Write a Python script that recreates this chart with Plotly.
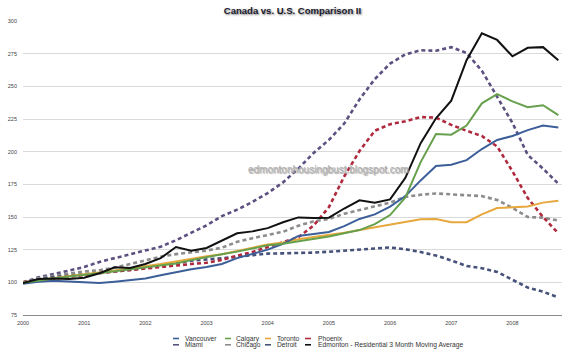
import plotly.graph_objects as go

# quarterly sample points, Jan 2000 .. Oct 2008
quarters = [2000 + 0.25 * k for k in range(36)]
year_ticks = [2000, 2001, 2002, 2003, 2004, 2005, 2006, 2007, 2008]
y_ticks = [75, 100, 125, 150, 175, 200, 225, 250, 275, 300]

vancouver = [99, 100.5, 101.2, 100.6, 99.8, 99.5, 100.5, 102, 103, 105.5, 108, 110,
             111.8, 114, 118.5, 121.5, 125, 129.5, 135.5, 137, 138.5, 143, 148.5, 152,
             158, 166, 178, 189, 190, 193.5, 202, 209, 212, 216.5, 220, 218.5]
calgary = [99.7, 101.5, 103, 104.5, 105.5, 107, 108.5, 110, 111, 112.5, 114.5, 117,
           119.5, 121.5, 123.5, 126, 128.3, 129.5, 131.3, 133, 135, 137.5, 140, 144.5,
           151.5, 165, 192, 213.5, 213, 220, 237, 244, 238.5, 234, 235.5, 228]
toronto = [100, 101.8, 103.2, 104.8, 106, 107.5, 109, 110.5, 112, 114, 116, 118.2,
           120, 121.5, 124, 126.5, 129, 130.5, 133, 134.7, 136.2, 138, 140, 142,
           143.7, 146, 148.2, 148.5, 146, 146, 152, 156.8, 157.5, 158, 161, 162.5]
edmonton = [99.5, 102.5, 103, 102.5, 103.5, 107, 111.5, 111, 114, 118.5, 127, 124.2,
            126.3, 132, 137.5, 139, 141.5, 146, 149.7, 149.2, 149.5, 156.5, 162.8, 161,
            163.5, 180, 206.5, 225.5, 239, 270, 290.6, 285.5, 273, 279.5, 280, 270]
miami = [100, 103.8, 106.3, 108.8, 111.7, 115.6, 118.6, 121.5, 124.4, 127.3, 132.2, 137.8,
         143.6, 150.7, 155.6, 161.5, 168.3, 176.5, 187, 199, 209, 221.5, 240, 255.5,
         267.4, 274.5, 277.6, 277.2, 280, 275.5, 262, 242, 222, 197.5, 187, 175.5]
chicago = [100, 103.3, 105, 106.8, 108.3, 109.3, 111.3, 114, 116.8, 119.6, 121.6, 123,
           124.3, 126.5, 131, 133.8, 136.2, 138.7, 143.3, 146.7, 148.5, 152.5, 155.3, 158,
           161, 165.4, 167, 168, 167.3, 166.5, 166, 163, 157, 150, 149.5, 147.3]
detroit = [100, 102, 104, 105, 106, 107, 108, 109.5, 111, 112.5, 114.5, 116.5,
           117.3, 118.5, 119.5, 120.8, 122, 122.2, 122.3, 122.8, 123.4, 124.3, 125.2, 126,
           126.7, 125.3, 123.2, 120.5, 116.8, 112.5, 110.8, 108, 102, 96, 92.8, 88.5]
phoenix = [100, 101.5, 103, 104.3, 105.5, 107, 108.3, 109.5, 110.8, 112, 113, 114,
           115, 117.2, 120.3, 123.2, 127, 131, 134.5, 143.5, 157.5, 181, 200.5, 216,
           221, 223.2, 226.5, 226, 220.5, 216, 212, 204, 185, 164.5, 150, 137.5]

series_names = ["Vancouver", "Miami", "Calgary", "Chicago", "Toronto", "Detroit",
                "Phoenix", "Edmonton - Residential 3 Month Moving Average"]
series_values = [vancouver, miami, calgary, chicago, toronto, detroit, phoenix, edmonton]
colors = ["#3c5f99", "#5d4f80", "#67a04c", "#8c8c8c", "#e6a83c", "#46527a", "#b02a3e", "#111111"]
dashed = [False, True, False, True, False, True, True, False]

fig = go.Figure()
draw_order = [1, 3, 5, 6, 4, 0, 2, 7]
for i in draw_order:
    fig.add_trace(go.Scatter(
        x=quarters, y=series_values[i], mode="lines", name=series_names[i],
        showlegend=False, hoverinfo="skip",
        line=dict(color=colors[i], width=2.6 if dashed[i] else 2.0,
                  dash="4px,3px" if dashed[i] else "solid"),
    ))

# legend built as text annotations + short line glyphs (4 columns x 2 rows)
L, R, T, B = 23, 8, 21, 38
W, H = 570, 353
pw, ph = W - L - R, H - T - B
def px_x(p):
    return (p - L) / pw
def px_y(p):
    return (H - B - p) / ph

col_dash = [(173, 179), (225, 231), (265, 271), (305, 311)]
col_text = [183, 234, 275, 316]
row_y = [338.5, 344.8]
for idx, name in enumerate(series_names):
    col, row = idx // 2, idx % 2
    fig.add_shape(type="line", xref="paper", yref="paper",
                  x0=px_x(col_dash[col][0]), x1=px_x(col_dash[col][1]),
                  y0=px_y(row_y[row]), y1=px_y(row_y[row]),
                  line=dict(color=colors[idx], width=1.6))
    fig.add_annotation(xref="paper", yref="paper", x=px_x(col_text[col]), y=px_y(row_y[row]),
                       text=name, showarrow=False, xanchor="left", yanchor="middle",
                       font=dict(family="Liberation Sans", size=6.7, color="#333333"))

fig.add_annotation(x=2004.99, y=186, xref="x", yref="y",
                   text="edmontonhousingbust.blogspot.com", showarrow=False,
                   font=dict(family="Liberation Sans", size=10, color="#adadad",
                             shadow="1px 1px 1px #9a9a9a"))

fig.update_layout(
    width=W, height=H,
    margin=dict(l=L, r=R, t=T, b=B, pad=0),
    paper_bgcolor="white", plot_bgcolor="white",
    title=dict(text="<b>Canada vs. U.S. Comparison II</b>", x=0.5, xref="paper",
               y=1 - 11 / H, yref="container", xanchor="center", yanchor="middle",
               font=dict(family="Liberation Sans", size=9.5, color="#1a1a2e",
                         shadow="1px 1px 2px #777")),
    xaxis=dict(range=[2000, 2008.81], tickvals=year_ticks,
               ticktext=[str(y) for y in year_ticks], showgrid=False, zeroline=False,
               showline=True, linecolor="#8a8a8a", linewidth=1, ticks="",
               tickfont=dict(family="Liberation Sans", size=5.5, color="#444444"),
               ticklabelstandoff=2),
    yaxis=dict(range=[75, 300], tickvals=y_ticks, showgrid=True, gridcolor="#dadada",
               gridwidth=1, zeroline=False, showline=False, ticks="",
               tickfont=dict(family="Liberation Sans", size=5.5, color="#444444"),
               ticklabelstandoff=5),
)

fig.write_html("out.html")
